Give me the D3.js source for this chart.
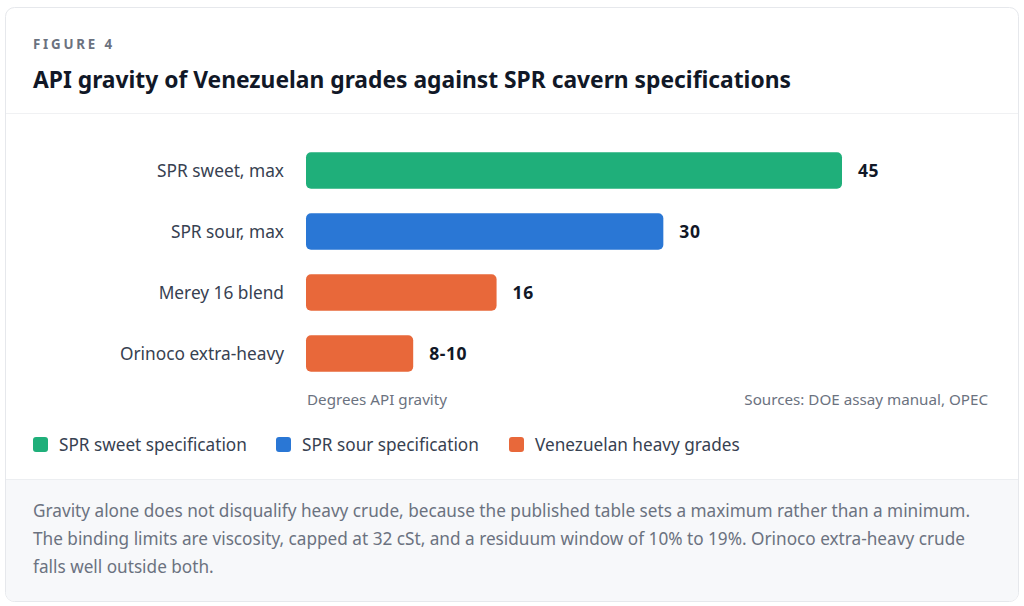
<!DOCTYPE html>
<html>
<head>
<meta charset="utf-8">
<script src="https://cdn.jsdelivr.net/npm/d3@7"></script>
<style>
  html, body { margin: 0; padding: 0; background: #ffffff; }
  svg { display: block; font-family: "Noto Sans", "Open Sans", sans-serif; }
</style>
</head>
<body>
<svg id="chart" width="1024" height="606"></svg>
<script>
const categories = ['SPR sweet, max', 'SPR sour, max', 'Merey 16 blend', 'Orinoco extra-heavy'];
const values = [45, 30, 16, 9];
const valueLabels = ['45', '30', '16', '8-10'];
const groups = ['sweet', 'sour', 'heavy', 'heavy'];

const legendKeys = ['sweet', 'sour', 'heavy'];
const legendLabels = ['SPR sweet specification', 'SPR sour specification', 'Venezuelan heavy grades'];

const noteLines = [
    'Gravity alone does not disqualify heavy crude, because the published table sets a maximum rather than a minimum.',
    'The binding limits are viscosity, capped at 32 cSt, and a residuum window of 10% to 19%. Orinoco extra-heavy crude',
    'falls well outside both.'
];

const colors = { sweet: '#1faf7a', sour: '#2a77d5', heavy: '#e8683a' };

const svg = d3.select('#chart');

// card
svg.append('rect')
    .attr('x', 5.5).attr('y', 7.5)
    .attr('width', 1013).attr('height', 594)
    .attr('rx', 9)
    .attr('fill', '#ffffff')
    .attr('stroke', '#e6e8ec');

// footer band
const clip = svg.append('clipPath').attr('id', 'card-clip');
clip.append('rect').attr('x', 6).attr('y', 8).attr('width', 1012).attr('height', 593).attr('rx', 8);

svg.append('rect')
    .attr('clip-path', 'url(#card-clip)')
    .attr('x', 6).attr('y', 479)
    .attr('width', 1012).attr('height', 123)
    .attr('fill', '#f7f8fa');

svg.append('line')
    .attr('x1', 6).attr('x2', 1018)
    .attr('y1', 479.5).attr('y2', 479.5)
    .attr('stroke', '#eceef1');

svg.append('line')
    .attr('x1', 6).attr('x2', 1018)
    .attr('y1', 113.5).attr('y2', 113.5)
    .attr('stroke', '#f0f1f3');

// header
svg.append('text')
    .attr('x', 33).attr('y', 49)
    .attr('font-size', 13.3)
    .attr('font-weight', 700)
    .attr('letter-spacing', 2.8)
    .attr('fill', '#6b7280')
    .text('FIGURE 4');

svg.append('text')
    .attr('x', 33).attr('y', 88)
    .attr('font-size', 22.8)
    .attr('font-weight', 700)
    .attr('fill', '#111827')
    .text('API gravity of Venezuelan grades against SPR cavern specifications');

// bars
const x = d3.scaleLinear()
    .domain([0, 45])
    .range([306, 842]);

const y = d3.scaleBand()
    .domain(categories)
    .range([140, 384])
    .paddingInner(0.4)
    .paddingOuter(0.2);

const rows = svg.append('g')
    .selectAll('g')
    .data(categories)
    .enter()
    .append('g');

rows.append('rect')
    .attr('x', x(0))
    .attr('y', d => y(d))
    .attr('width', (d, i) => x(values[i]) - x(0))
    .attr('height', y.bandwidth())
    .attr('rx', 5)
    .attr('fill', (d, i) => colors[groups[i]]);

rows.append('text')
    .attr('x', 284)
    .attr('y', d => y(d) + y.bandwidth() / 2)
    .attr('dy', '0.35em')
    .attr('text-anchor', 'end')
    .attr('font-size', 17.3)
    .attr('fill', '#374151')
    .text(d => d);

rows.append('text')
    .attr('x', (d, i) => x(values[i]) + 16)
    .attr('y', d => y(d) + y.bandwidth() / 2)
    .attr('dy', '0.35em')
    .attr('font-size', 17.5)
    .attr('font-weight', 700)
    .attr('letter-spacing', 0.6)
    .attr('fill', '#111827')
    .text((d, i) => valueLabels[i]);

// axis caption and sources
svg.append('text')
    .attr('x', 307).attr('y', 405)
    .attr('font-size', 15.2)
    .attr('fill', '#6b7280')
    .text('Degrees API gravity');

svg.append('text')
    .attr('x', 988).attr('y', 405)
    .attr('text-anchor', 'end')
    .attr('font-size', 15.2)
    .attr('fill', '#6b7280')
    .text('Sources: DOE assay manual, OPEC');

// legend
const legendX = [33, 276, 509];
const legend = svg.append('g')
    .selectAll('g')
    .data(legendKeys)
    .enter()
    .append('g')
    .attr('transform', (d, i) => `translate(${legendX[i]},437)`);

legend.append('rect')
    .attr('width', 15).attr('height', 15)
    .attr('rx', 3)
    .attr('fill', d => colors[d]);

legend.append('text')
    .attr('x', 26).attr('y', 7.5)
    .attr('dy', '0.35em')
    .attr('font-size', 17.2)
    .attr('fill', '#374151')
    .text((d, i) => legendLabels[i]);

// note
svg.append('g')
    .selectAll('text')
    .data(noteLines)
    .enter()
    .append('text')
    .attr('x', 33)
    .attr('y', (d, i) => 517 + i * 28)
    .attr('font-size', 17.2)
    .attr('fill', '#6b7280')
    .text(d => d);
</script>
</body>
</html>
